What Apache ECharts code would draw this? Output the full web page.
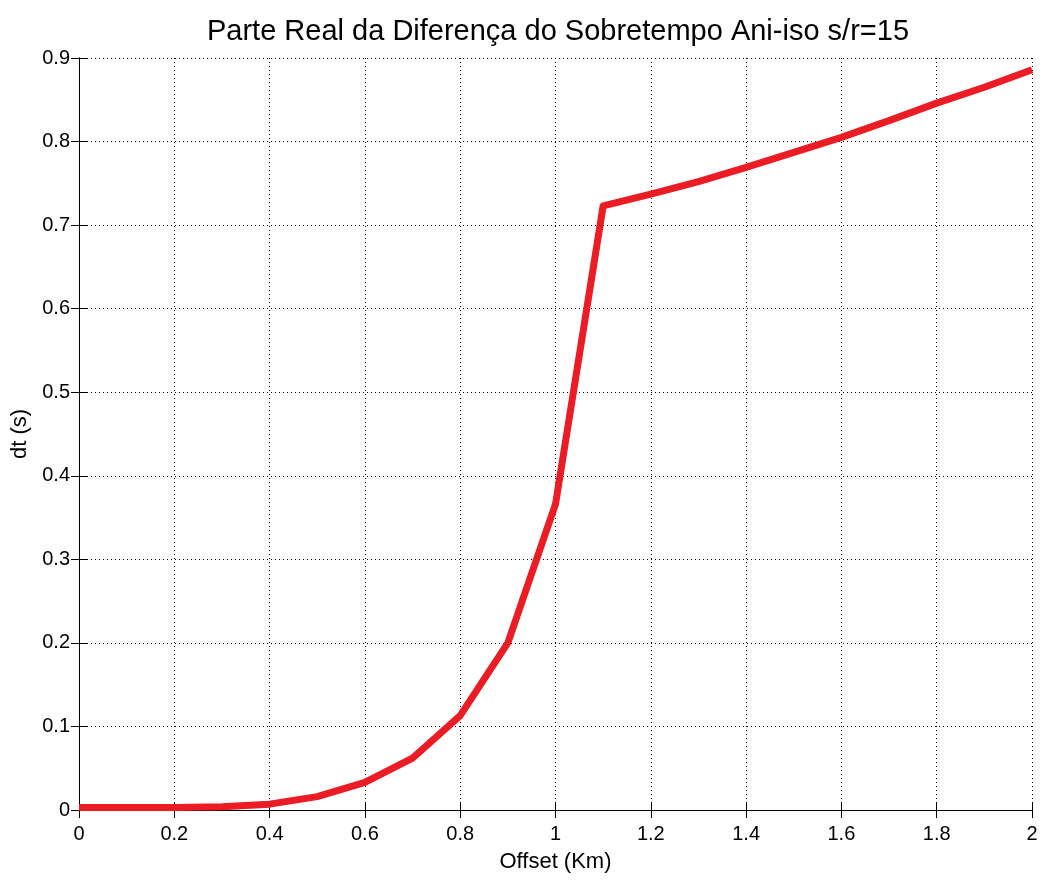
<!DOCTYPE html>
<html>
<head>
<meta charset="utf-8">
<script src="https://cdn.jsdelivr.net/npm/echarts@6/dist/echarts.min.js"></script>
<style>
  html, body { margin: 0; padding: 0; background: #fff; }
  #chart { width: 1047px; height: 880px; }
</style>
</head>
<body>
<div id="chart"></div>
<script>
// Offset samples (Km) and the real part of the anisotropic-isotropic moveout difference (s)
const offsetKm = [0, 0.1, 0.2, 0.3, 0.4, 0.5, 0.6, 0.7, 0.8, 0.9, 1.0, 1.1, 1.2, 1.3, 1.4, 1.5, 1.6, 1.7, 1.8, 1.9, 2.0];
const dtSeconds = [0.003, 0.003, 0.003, 0.004, 0.007, 0.016, 0.033, 0.062, 0.113, 0.2, 0.366, 0.723, 0.737, 0.752, 0.769, 0.787, 0.805, 0.825, 0.846, 0.865, 0.886];

const titleText = 'Parte Real da Diferença do Sobretempo Ani-iso s/r=15';
const xName = 'Offset (Km)';
const yName = 'dt (s)';

const fontFamily = 'Liberation Sans, Arial, Helvetica, sans-serif';

const points = offsetKm.map((x, i) => [x, dtSeconds[i]]);

const dotted = { color: '#000', width: 1, type: [1, 3] };

const chart = echarts.init(document.getElementById('chart'), null, { renderer: 'canvas' });
chart.setOption({
  backgroundColor: '#fff',
  animation: false,
  title: {
    text: titleText,
    left: 553, textAlign: 'center', top: 12,
    textStyle: { fontFamily: fontFamily, fontSize: 29, fontWeight: 'normal', color: '#000' }
  },
  grid: { left: 79, right: 15, top: 58, bottom: 70, containLabel: false },
  xAxis: [{
    type: 'value', min: 0, max: 2, interval: 0.2,
    name: xName, nameLocation: 'middle', nameGap: 41,
    nameTextStyle: { fontFamily: fontFamily, fontSize: 22, color: '#000' },
    axisLine: { show: true, lineStyle: { color: '#000', width: 1 } },
    axisTick: { show: true, inside: true, length: 8, lineStyle: { color: '#000' } },
    axisLabel: { fontFamily: fontFamily, fontSize: 20, color: '#000', margin: 14,
      formatter: v => String(Math.round(v * 10) / 10) },
    splitLine: { show: true, lineStyle: dotted }
  }, {
    type: 'value', min: 0, max: 2, interval: 0.2, position: 'top',
    axisLine: { show: true, lineStyle: { color: '#000', width: 1 } },
    axisTick: { show: true, inside: true, length: 8, lineStyle: { color: '#000' } },
    axisLabel: { show: false }, splitLine: { show: false }
  }],
  yAxis: [{
    type: 'value', min: 0, max: 0.9, interval: 0.1,
    name: yName, nameLocation: 'middle', nameGap: 41, nameRotate: 90,
    nameTextStyle: { fontFamily: fontFamily, fontSize: 22, color: '#000' },
    axisLine: { show: true, lineStyle: { color: '#000', width: 1 } },
    axisTick: { show: true, inside: true, length: 8, lineStyle: { color: '#000' } },
    axisLabel: { fontFamily: fontFamily, fontSize: 20, color: '#000', margin: 9,
      formatter: v => String(Math.round(v * 10) / 10) },
    splitLine: { show: true, lineStyle: dotted }
  }, {
    type: 'value', min: 0, max: 0.9, interval: 0.1, position: 'right',
    axisLine: { show: true, lineStyle: { color: '#000', width: 1 } },
    axisTick: { show: true, inside: true, length: 8, lineStyle: { color: '#000' } },
    axisLabel: { show: false }, splitLine: { show: false }
  }],
  series: [{
    type: 'line',
    data: points,
    xAxisIndex: 0, yAxisIndex: 0,
    showSymbol: false,
    smooth: false,
    clip: true,
    lineStyle: { color: '#ec1c24', width: 7, join: 'round' }
  }]
});
</script>
</body>
</html>
